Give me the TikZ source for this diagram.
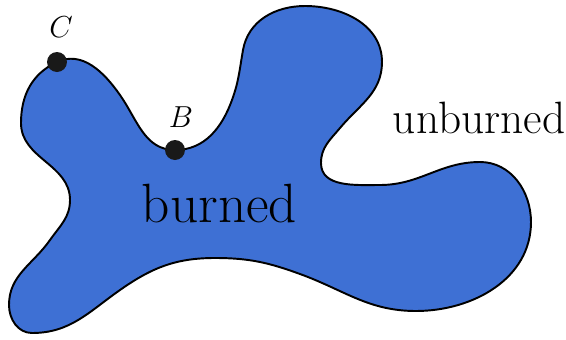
\documentclass[tikz,border=0pt]{standalone}
\usepackage{amsmath}
\usepackage{xcolor}
\usepackage{tikz}
\definecolor{fireblue}{RGB}{62,112,212}

\tikzset{
    burnedregion/.style={fill=fireblue,draw=black,line width=1.1pt},
    dotmark/.style={circle,fill=black!90,inner sep=0pt,minimum size=0.4cm},
    pointlabel/.style={anchor=base,font=\fontsize{16.5}{18}\selectfont}
}

\begin{document}
\begin{tikzpicture}[x=0.02cm,y=0.02cm]
    \useasboundingbox (0,0) rectangle (566,-339);

    % Points on the boundary
    \coordinate (C) at (57,-62);
    \coordinate (B) at (175,-150);

    % Burned region
    \draw[burnedregion] (C)
        to[out=25,in=125] (120,-95)
        to[out=-55,in=180] (B)
        to[out=0,in=-110] (232,-100)
        to[out=70,in=-100] (243,-50)
        to[out=80,in=180] (305,-6)
        to[out=0,in=90] (382,-62)
        to[out=-90,in=50] (340,-128)
        to[out=-130,in=90] (321,-163)
        to[out=-90,in=180] (380,-185)
        to[out=0,in=180] (480,-162)
        to[out=0,in=90] (531,-222)
        to[out=-90,in=0] (416,-311)
        to[out=180,in=-20] (300,-274)
        to[out=160,in=0] (215,-258)
        to[out=180,in=35] (120,-290)
        to[out=215,in=0] (32,-333)
        to[out=180,in=-90] (9,-305)
        to[out=90,in=-125] (50,-240)
        to[out=55,in=-90] (70,-200)
        to[out=90,in=-90] (21,-123)
        to[out=90,in=205] cycle;

    \node[dotmark] (Cdot) at (C) {};
    \node[dotmark] (Bdot) at (B) {};
    \node[pointlabel] (Clabel) at (61,-37) {$C$};
    \node[pointlabel] (Blabel) at (181,-127) {$B$};

    % Region labels
    \node[anchor=base,font=\fontsize{31.5}{33}\selectfont] (burned) at (219.5,-222) {burned};
    \node[anchor=base,font=\fontsize{25.8}{28}\selectfont] (unburned) at (479,-133) {unburned};
\end{tikzpicture}
\end{document}
